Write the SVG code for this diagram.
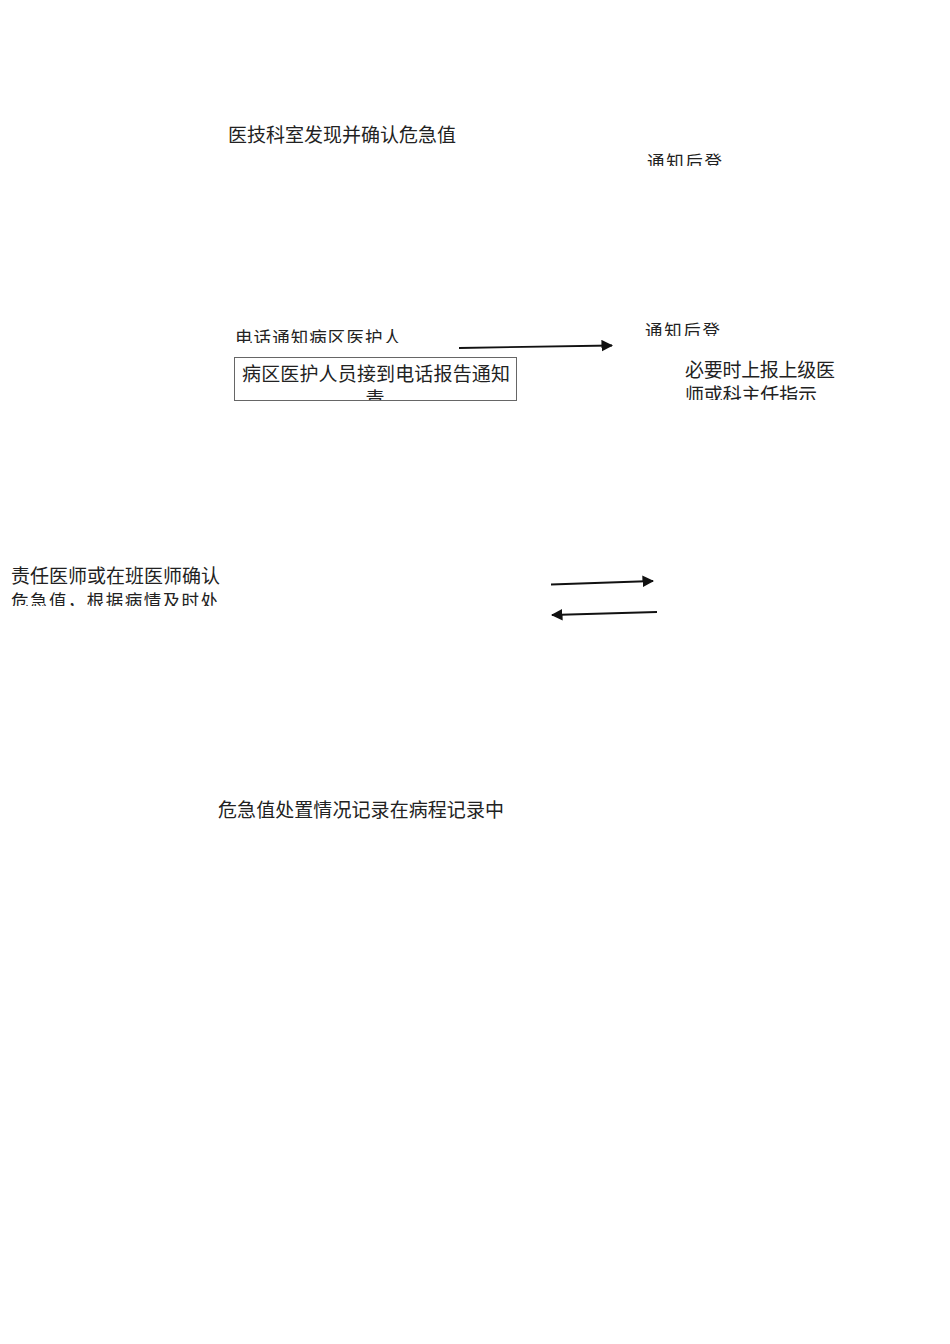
<svg xmlns="http://www.w3.org/2000/svg" width="950" height="1344" viewBox="0 0 950 1344">
<style>
text{font-family:"Noto Sans CJK SC","Noto Sans",sans-serif;fill:#222;font-size:19px}
.s{font-size:17.5px}
.ln{stroke:#111;stroke-width:1.8;fill:none}
</style>
<defs>
<marker id="ah" viewBox="0 0 10 10" refX="9" refY="5" markerWidth="6.5" markerHeight="6.5" markerUnits="strokeWidth" orient="auto"><path d="M0,0 L10,5 L0,10 z" fill="#111"/></marker>
<clipPath id="c1"><rect x="600" y="140" width="200" height="26"/></clipPath>
<clipPath id="c2"><rect x="220" y="320" width="250" height="23"/></clipPath>
<clipPath id="c3"><rect x="600" y="310" width="200" height="26"/></clipPath>
<clipPath id="c4"><rect x="234" y="357" width="283" height="43"/></clipPath>
<clipPath id="c5"><rect x="660" y="355" width="250" height="45"/></clipPath>
<clipPath id="c6"><rect x="0" y="560" width="260" height="46"/></clipPath>
</defs>
<g id="n1"><text x="228" y="142">医技科室发现并确认危急值</text></g>
<g id="n2" clip-path="url(#c1)"><text class="s" x="647" y="168" textLength="75">通知后登</text></g>
<g id="n3" clip-path="url(#c2)"><text class="s" x="235" y="344" textLength="166">电话通知病区医护人</text></g>
<g id="n4" clip-path="url(#c3)"><text class="s" x="645" y="337" textLength="75">通知后登</text></g>
<g id="n5">
<rect x="234.5" y="357.5" width="282" height="43" fill="none" stroke="#666" stroke-width="1"/>
<g clip-path="url(#c4)">
<text x="242" y="381" textLength="268">病区医护人员接到电话报告通知</text>
<text x="375" y="406" text-anchor="middle">责</text>
</g>
</g>
<g id="n6" clip-path="url(#c5)">
<text x="685" y="377" textLength="150">必要时上报上级医</text>
<text x="685" y="402" textLength="132">师或科主任指示</text>
</g>
<g id="n7" clip-path="url(#c6)">
<text x="11" y="583" textLength="209">责任医师或在班医师确认</text>
<text class="s" x="11" y="607" textLength="207">危急值，根据病情及时处</text>
</g>
<g id="n8"><text x="218" y="817" textLength="286">危急值处置情况记录在病程记录中</text></g>
<g id="connectors">
<line class="ln" x1="459" y1="348" x2="612" y2="345.5" marker-end="url(#ah)"/>
<line class="ln" x1="551" y1="584.5" x2="653" y2="581" marker-end="url(#ah)"/>
<line class="ln" x1="657" y1="612" x2="552" y2="615" marker-end="url(#ah)"/>
</g>
</svg>
